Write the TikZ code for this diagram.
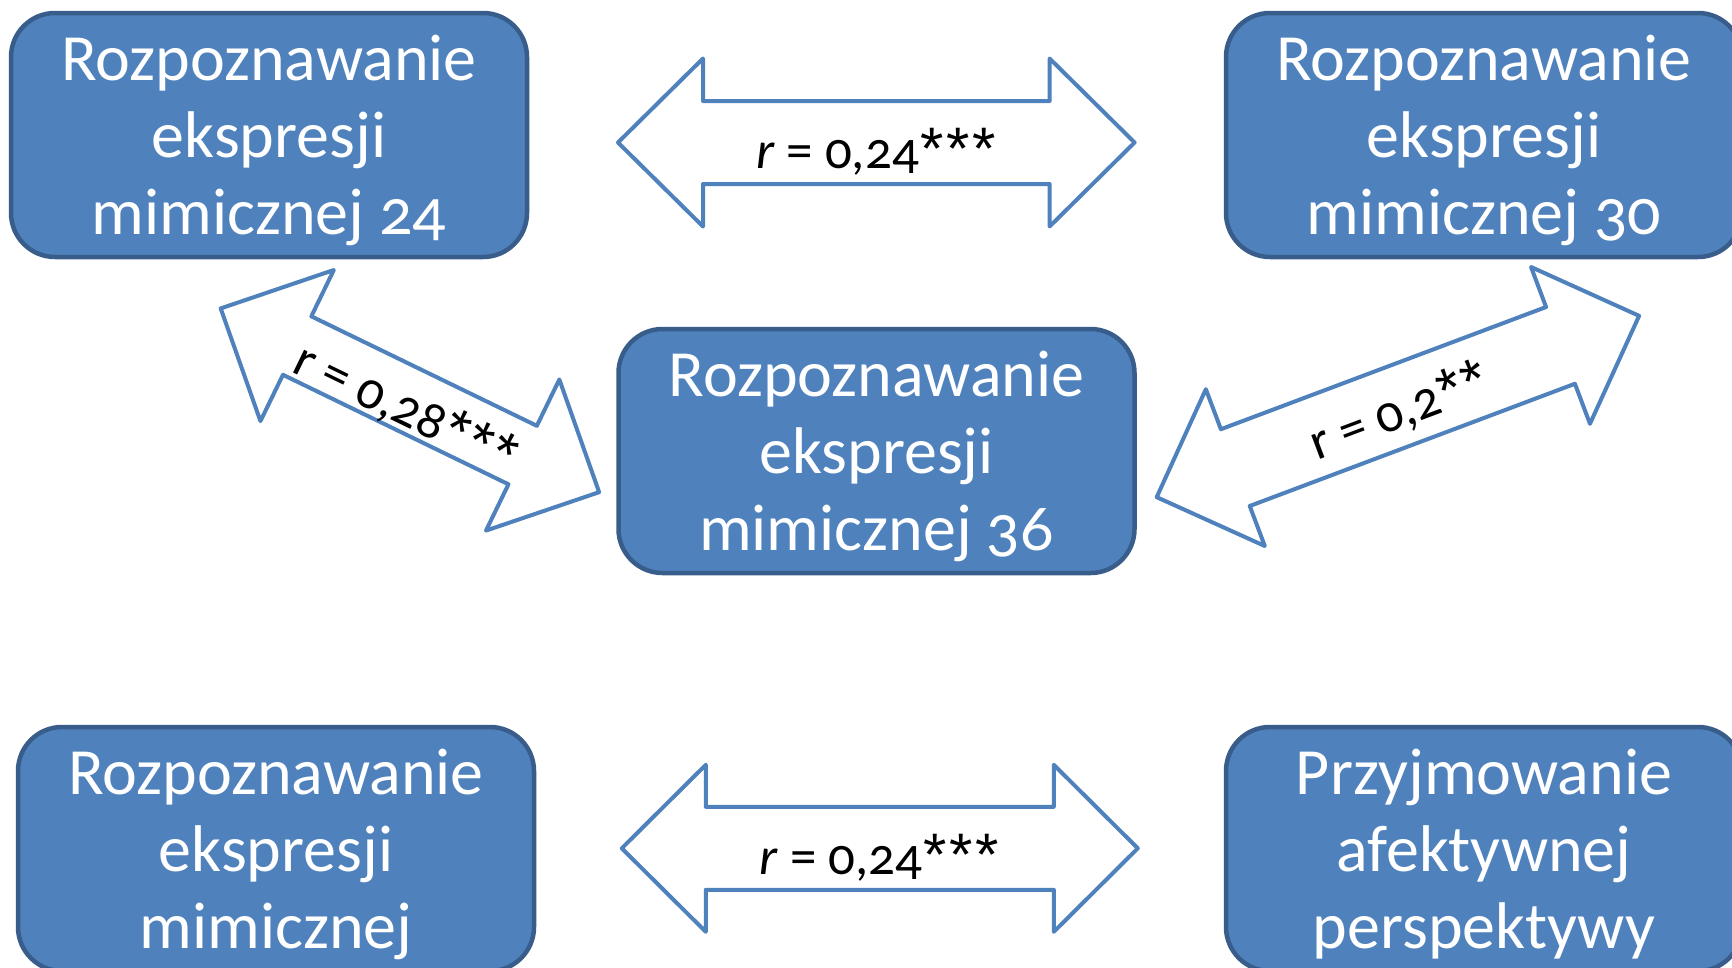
\documentclass[tikz,border=0pt]{standalone}
\usepackage{fontspec}
\setmainfont{Carlito}[Numbers=OldStyle]
\newfontfamily\astfont{Liberation Sans}
\definecolor{boxfill}{HTML}{4F81BD}
\definecolor{boxborder}{HTML}{385D8A}
\definecolor{arrowline}{HTML}{4F81BD}
\newcommand\blockarrow[8]{% name, cx, cy, angle, length, head length, head width, shaft width
  \coordinate (#1) at (#2,#3);
  \draw[arrowshape, shift={(#1)}, rotate=#4]
    ({-#5/2},0) -- ({-#5/2+#6},{#7/2}) -- ({-#5/2+#6},{#8/2}) -- ({#5/2-#6},{#8/2})
    -- ({#5/2-#6},{#7/2}) -- ({#5/2},0) -- ({#5/2-#6},{-#7/2}) -- ({#5/2-#6},{-#8/2})
    -- ({-#5/2+#6},{-#8/2}) -- ({-#5/2+#6},{-#7/2}) -- cycle;}
\newcommand\arrowlabel[5]{% name, at-coordinate, angle, baseline offset, text
  \begin{scope}[shift={(#2)}, rotate=#3]
    \node[lbl, transform shape, anchor=base] (#1) at (0,#4) {#5};
  \end{scope}}
\newcommand\boxtext[1]{\raisebox{-6.6pt}[\height][\depth]{\begin{tabular}{@{}c@{}}#1\end{tabular}}}
\newcommand\st{{\astfont\fontsize{60}{60}\selectfont\kern1.5pt\raisebox{-1pt}{*}\kern1pt}}
\begin{document}
\begin{tikzpicture}[x=1pt, y=-1pt,
  box/.style={draw=boxborder, fill=boxfill, line width=4.5pt, rounded corners=44pt,
    minimum width=516pt, minimum height=244pt, inner sep=0pt, text=white,
    font={\fontsize{66}{77}\selectfont}},
  arrowshape/.style={draw=arrowline, fill=white, line width=4pt, line join=round},
  lbl/.style={inner sep=0pt, text=black, font={\fontsize{53}{60}\selectfont}}]
\useasboundingbox (0,0) rectangle (1732,967);
\fill[white] (0,0) rectangle (1732,967);
\clip (0,0) rectangle (1732,967);

\node[box] (b24) at (269,135) {\boxtext{Rozpoznawanie\\ekspresji\\mimicznej 24}};
\node[box] (b30) at (1484,135) {\boxtext{Rozpoznawanie\\ekspresji\\mimicznej 30}};
\node[box] (b36) at (876.5,451) {\boxtext{Rozpoznawanie\\ekspresji\\mimicznej 36}};
\node[box] (bm) at (276,849) {\boxtext{Rozpoznawanie\\ekspresji\\mimicznej}};
\node[box] (bp) at (1484,849) {\boxtext{Przyjmowanie\\afektywnej\\perspektywy}};

\blockarrow{a1}{876.3}{142.5}{0}{516.6}{85}{168}{83}
\blockarrow{a2}{409.9}{400.3}{-25.9}{420.7}{85}{168}{65}
\blockarrow{a3}{1397.9}{406.5}{20.6}{515.4}{84}{167.5}{82}
\blockarrow{a4}{879.8}{848.3}{0}{516}{84}{167}{83}

\arrowlabel{l1}{a1}{0}{26}{\textit{r} = 0,24\st\st\st}
\arrowlabel{l2}{a2}{-25.9}{26}{r = 0,28\st\st\st}
\arrowlabel{l3}{a3}{20.6}{22}{r = 0,2\st\st}
\arrowlabel{l4}{a4}{0}{26}{\textit{r} = 0,24\st\st\st}
\end{tikzpicture}
\end{document}
